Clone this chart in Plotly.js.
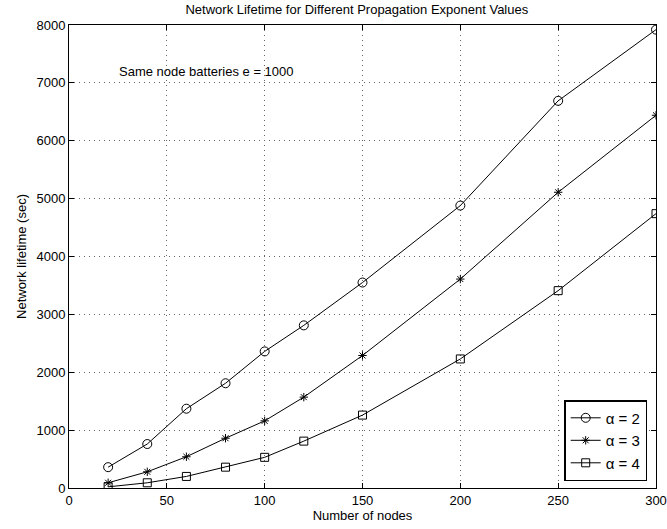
<!DOCTYPE html>
<html>
<head>
<meta charset="utf-8">
<script src="https://cdn.plot.ly/plotly-3.0.1.min.js"></script>
<style>html,body{margin:0;padding:0;background:#fff}#chart{width:667px;height:529px}</style>
</head>
<body>
<div id="chart"></div>
<script>
const nodes = [20, 40, 60, 80, 100, 120, 150, 200, 250, 300];
const alpha2 = [360, 760, 1370, 1810, 2360, 2810, 3550, 4880, 6690, 7920];
const alpha3 = [90, 280, 540, 860, 1160, 1570, 2290, 3610, 5110, 6440];
const alpha4 = [20, 90, 200, 360, 530, 810, 1260, 2230, 3410, 4740];
const seriesNames = ['α = 2', 'α = 3', 'α = 4'];
const xTicks = [0, 50, 100, 150, 200, 250, 300];
const yTicks = [0, 1000, 2000, 3000, 4000, 5000, 6000, 7000, 8000];

const font = {family: 'Liberation Sans, Arial, sans-serif', size: 13, color: '#000'};
function tr(y, name, sym, size) {
  return {x: nodes, y: y, name: name, type: 'scatter', mode: 'lines+markers',
    line: {color: '#000', width: 1},
    marker: {symbol: sym, size: size, color: '#000', line: {color: '#000', width: 1}}};
}
const data = [
  tr(alpha2, seriesNames[0], 'circle-open', 9),
  tr(alpha3, seriesNames[1], 'asterisk-open', 7),
  tr(alpha4, seriesNames[2], 'square-open', 8)
];
const axisCommon = {
  showline: true, linecolor: '#000', linewidth: 1, mirror: 'ticks',
  ticks: 'inside', ticklen: 5, tickcolor: '#000',
  showgrid: true, gridcolor: '#666', griddash: '1px,4px', gridwidth: 1,
  zeroline: false, tickfont: font
};
const layout = {
  width: 667, height: 529,
  margin: {l: 69, r: 11, t: 25, b: 41},
  paper_bgcolor: '#fff', plot_bgcolor: '#fff',
  font: font,
  title: {text: 'Network Lifetime for Different Propagation Exponent Values', font: {family: font.family, size: 13, color: '#000'}, x: 0.535, xanchor: 'center', y: 0.99, yanchor: 'top'},
  xaxis: Object.assign({}, axisCommon, {range: [0, 300], tickvals: xTicks, ticktext: xTicks.map(String),
    title: {text: 'Number of nodes', font: font, standoff: 2}}),
  yaxis: Object.assign({}, axisCommon, {range: [0, 8000], tickvals: yTicks, ticktext: yTicks.map(String),
    title: {text: 'Network lifetime (sec)', font: font, standoff: 6}}),
  showlegend: true,
  legend: {x: 0.985, y: 0.015, xanchor: 'right', yanchor: 'bottom', bgcolor: '#fff', bordercolor: '#000', borderwidth: 1.5, font: {family: font.family, size: 15, color: '#000'}, tracegroupgap: 0, itemwidth: 30},
  annotations: [{x: 24.5, y: 7190, xref: 'x', yref: 'y', xanchor: 'left', yanchor: 'middle', text: 'Same node batteries e = 1000', showarrow: false, font: font}]
};
Plotly.newPlot('chart', data, layout, {staticPlot: true});
</script>
</body>
</html>
